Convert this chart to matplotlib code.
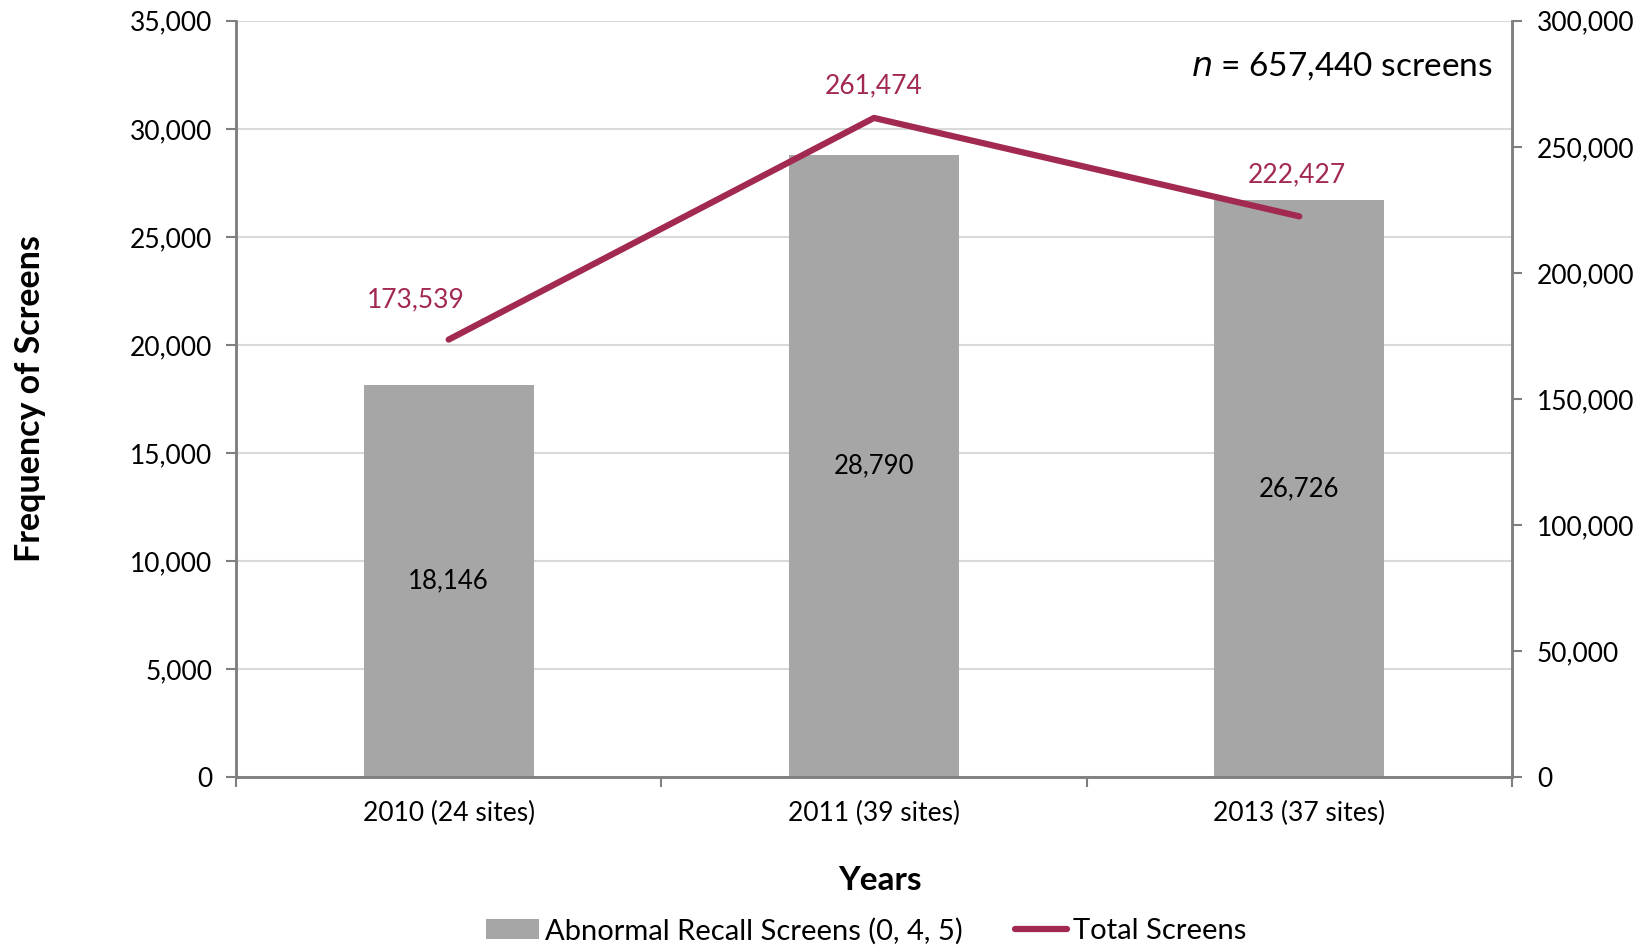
import matplotlib.pyplot as plt
import numpy as np

plt.rcParams['font.family'] = ['Lato', 'DejaVu Sans']

# Data
categories = ["2010 (24 sites)", "2011 (39 sites)", "2013 (37 sites)"]
abnormal = [18146, 28790, 26726]
total = [173539, 261474, 222427]
left_ticks = [0, 5000, 10000, 15000, 20000, 25000, 30000, 35000]
right_ticks = [0, 50000, 100000, 150000, 200000, 250000, 300000]

bar_color = "#A6A6A6"
line_color = "#A2294F"
spine_color = "#7F7F7F"

# label offsets (points) for the line values, as placed in the original
line_label_offsets = [(-24, 29), (0, 23), (-2, 30)]

fig = plt.figure(figsize=(16.47, 9.46), dpi=100)
ax = fig.add_axes([0.1433, 0.1786, 0.7747, 0.7994])
ax2 = ax.twinx()

x = np.arange(len(categories))

# Bars
bars = ax.bar(x, abnormal, width=0.4, color=bar_color, zorder=2,
              label="Abnormal Recall Screens (0, 4, 5)")
for xi, v in zip(x, abnormal):
    ax.text(xi, v / 2, "{:,}".format(v), ha="center", va="center",
            fontsize=18.5, color="black", zorder=3)

ax.set_xlim(-0.5, len(categories) - 0.5)
ax.set_ylim(0, 35000)
ax.set_yticks(left_ticks)
ax.set_yticklabels(["{:,}".format(t) for t in left_ticks])
ax.yaxis.grid(True, color="#D9D9D9", linewidth=1.5, zorder=0)
ax.set_axisbelow(True)

# Category ticks at boundaries, labels at centres
ax.set_xticks(np.arange(-0.5, len(categories), 1.0))
ax.set_xticklabels([])
ax.set_xticks(x, minor=True)
ax.set_xticklabels(categories, minor=True)
ax.tick_params(axis="x", which="minor", length=0, pad=17, labelsize=19)
ax.tick_params(axis="x", which="major", length=7, width=1.5, color=spine_color)
ax.tick_params(axis="y", length=7, width=1.5, color=spine_color, labelsize=19, pad=10)

# Line
ax2.plot(x, total, color=line_color, linewidth=4.5, solid_capstyle="round",
         zorder=4, label="Total Screens")
for xi, v, off in zip(x, total, line_label_offsets):
    ax2.annotate("{:,}".format(v), xy=(xi, v), xytext=off,
                 textcoords="offset points", ha="center", va="center",
                 fontsize=19, color=line_color)
ax2.set_ylim(0, 300000)
ax2.set_yticks(right_ticks)
ax2.set_yticklabels(["{:,}".format(t) for t in right_ticks])
ax2.tick_params(axis="y", length=7, width=1.5, color=spine_color, labelsize=19, pad=11)

for a in (ax, ax2):
    a.spines["top"].set_visible(False)
    for side in ("left", "right", "bottom"):
        a.spines[side].set_color(spine_color)
        a.spines[side].set_linewidth(1.8)

# Labels
ax.set_ylabel("Frequency of Screens", fontsize=24.5, fontweight="bold", labelpad=0)
ax.yaxis.set_label_coords(-0.149, 0.5)
ax.set_xlabel("Years", fontsize=24, fontweight="bold")
ax.xaxis.set_label_coords(0.505, -0.117)

ax.text(0.985, 0.94, r"$\it{n}$ = 657,440 screens", transform=ax.transAxes,
        ha="right", va="center", fontsize=24)

# Legend
handles = [bars, ax2.get_lines()[0]]
fig.legend(handles, [h.get_label() for h in handles], loc="center",
           bbox_to_anchor=(0.526, 0.016), ncol=2, frameon=False, fontsize=21,
           handlelength=1.8, handletextpad=0.2, columnspacing=1.8)

fig.savefig("out.png", dpi=100)
